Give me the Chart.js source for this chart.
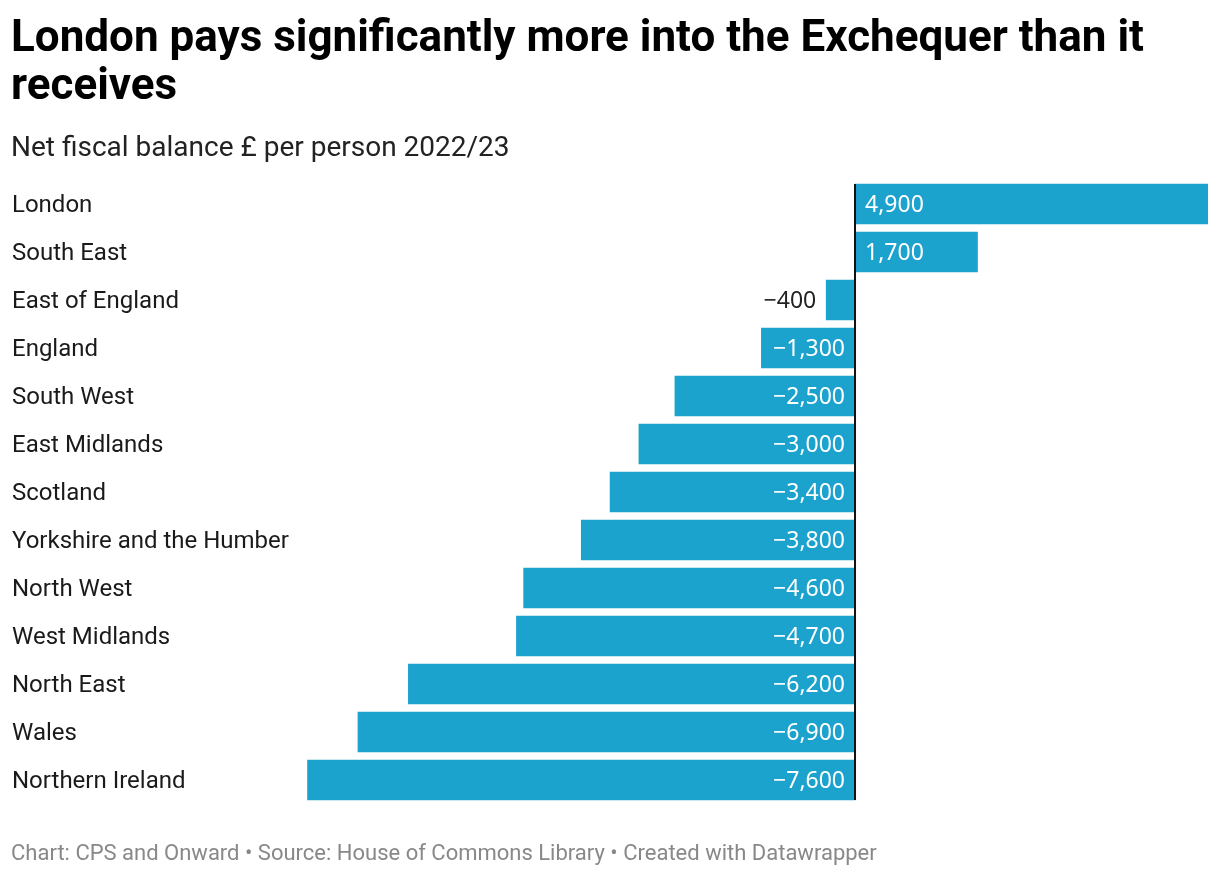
<!DOCTYPE html>
<html>
<head>
<meta charset="utf-8">
<script src="https://cdn.jsdelivr.net/npm/chart.js@4"></script>
<style>
    body { margin: 0; background: #fff; font-family: Roboto, sans-serif; }
    #wrap { position: relative; width: 1220px; height: 876px; }
    h1 { position: absolute; left: 11px; top: 12px; margin: 0; width: 1190px;
         font-size: 44px; line-height: 48px; font-weight: 700; color: #000; }
    .sub { position: absolute; left: 11px; top: 130px; font-size: 28px; color: #222; }
    .foot { position: absolute; left: 11px; top: 840px; font-size: 22px; color: #888; }
    canvas { position: absolute; left: 0; top: 0; }
</style>
</head>
<body>
<div id="wrap">
    <canvas id="chart" width="1220" height="876"></canvas>
    <h1>London pays significantly more into the Exchequer than it receives</h1>
    <div class="sub">Net fiscal balance £ per person 2022/23</div>
    <div class="foot">Chart: CPS and Onward • Source: House of Commons Library • Created with Datawrapper</div>
</div>
<script>
    // Data
    const regions = [
        'London', 'South East', 'East of England', 'England', 'South West',
        'East Midlands', 'Scotland', 'Yorkshire and the Humber', 'North West',
        'West Midlands', 'North East', 'Wales', 'Northern Ireland'
    ];
    const balance = [4900, 1700, -400, -1300, -2500, -3000, -3400, -3800, -4600, -4700, -6200, -6900, -7600];

    const barColor = '#1ba2cd';

    function fmt(v) {
        return (v < 0 ? '\u2212' : '') + Math.abs(v).toLocaleString('en-US');
    }

    // Zero line + value labels
    const valueLabels = {
        id: 'valueLabels',
        afterDatasetsDraw(chart) {
            const ctx = chart.ctx;
            const x = chart.scales.x;
            const area = chart.chartArea;
            const zero = x.getPixelForValue(0);
            ctx.save();
            ctx.font = '23px "Noto Sans", Roboto, sans-serif';
            ctx.textBaseline = 'middle';
            chart.getDatasetMeta(0).data.forEach((bar, i) => {
                const v = balance[i];
                const text = fmt(v);
                const w = ctx.measureText(text).width;
                const len = Math.abs(bar.x - zero);
                if (v >= 0) {
                    ctx.textAlign = 'left';
                    ctx.fillStyle = '#fff';
                    ctx.fillText(text, zero + 10, bar.y + 1);
                } else if (len > w + 16) {
                    ctx.textAlign = 'right';
                    ctx.fillStyle = '#fff';
                    ctx.fillText(text, zero - 10, bar.y + 1);
                } else {
                    ctx.textAlign = 'right';
                    ctx.fillStyle = '#222';
                    ctx.fillText(text, bar.x - 10, bar.y + 1);
                }
            });
            ctx.beginPath();
            ctx.moveTo(zero, area.top + 4);
            ctx.lineTo(zero, area.bottom - 4);
            ctx.strokeStyle = '#111';
            ctx.lineWidth = 2;
            ctx.stroke();
            ctx.restore();
        }
    };

    new Chart(document.getElementById('chart'), {
        type: 'bar',
        data: {
            labels: regions,
            datasets: [{
                data: balance,
                backgroundColor: barColor,
                barThickness: 40,
                categoryPercentage: 1
            }]
        },
        options: {
            indexAxis: 'y',
            responsive: false,
            animation: false,
            layout: { padding: { left: 12, right: 12, top: 180, bottom: 72 } },
            plugins: { legend: { display: false }, tooltip: { enabled: false } },
            scales: {
                x: { display: false, min: -7760, max: 4900 },
                y: {
                    grid: { display: false },
                    border: { display: false },
                    afterFit(scale) { scale.width = 284; },
                    ticks: {
                        crossAlign: 'far',
                        padding: 0,
                        labelOffset: 2,
                        color: '#1a1a1a',
                        font: { family: 'Roboto', size: 24 }
                    }
                }
            }
        },
        plugins: [valueLabels]
    });
</script>
</body>
</html>
